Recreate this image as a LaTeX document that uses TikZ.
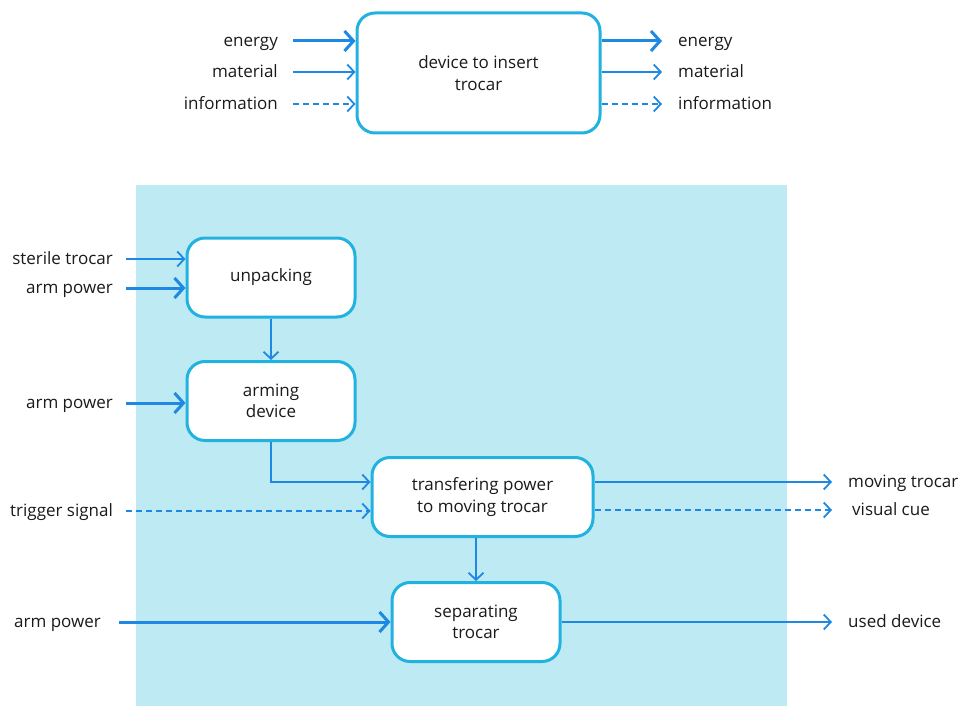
\documentclass[tikz,border=0pt]{standalone}
\usepackage{fontspec}
\setmainfont{Open Sans}
\usetikzlibrary{arrows.meta,positioning}

\definecolor{boxline}{HTML}{22B2E0}
\definecolor{flow}{HTML}{1E88E5}
\definecolor{area}{HTML}{BDEAF3}
\definecolor{ink}{HTML}{1A1A1A}

\tikzset{
  fn/.style={draw=boxline, line width=3pt, fill=white, rounded corners=18pt,
    align=center, text=ink, minimum width=168pt, minimum height=79pt},
  lbl/.style={inner sep=0pt, text=ink, text height=14pt, text depth=3pt},
  flw/.style={flow, line width=1.8pt, -{Straight Barb[length=7pt,width=15pt]}},
  heavy/.style={flow, line width=3pt, -{Straight Barb[length=9pt,width=20pt]}},
  info/.style={flw, dash pattern=on 6pt off 4pt},
}

\begin{document}
\begin{tikzpicture}[x=1pt, y=-1pt, font=\fontsize{17}{21.5}\selectfont]
  \useasboundingbox (0,0) rectangle (959,706);

  % top: the device as one block
  \node[fn, minimum width=243pt, minimum height=120pt] (dev) at (478.5,73) {device to insert\\trocar};

  \node[lbl, anchor=east] (inE) at (278,41) {energy};
  \node[lbl, anchor=east] (inM) at (278,72) {material};
  \node[lbl, anchor=east] (inI) at (278,104) {information};
  \node[lbl, anchor=west] (outE) at (678,41) {energy};
  \node[lbl, anchor=west] (outM) at (678,72) {material};
  \node[lbl, anchor=west] (outI) at (678,104) {information};

  \draw[heavy] ([xshift=15pt]inE.east) -- (inE -| dev.west);
  \draw[flw] ([xshift=15pt]inM.east) -- (inM -| dev.west);
  \draw[info] ([xshift=15pt]inI.east) -- (inI -| dev.west);
  \draw[heavy] (outE -| dev.east) -- ([xshift=-16pt]outE.west);
  \draw[flw] (outM -| dev.east) -- ([xshift=-16pt]outM.west);
  \draw[info] (outI -| dev.east) -- ([xshift=-16pt]outI.west);

  % bottom: the functions inside
  \fill[area] (136,185) rectangle (787,706);

  \node[fn] (unp) at (271,277.5) {unpacking};
  \node[fn] (arm) at (271,401) {arming\\device};
  \node[fn, minimum width=221pt] (trans) at (482.5,497) {transfering power\\to moving trocar};
  \node[fn] (sep) at (476,622) {separating\\trocar};

  \node[lbl, anchor=east] (steril) at (113,259) {sterile trocar};
  \node[lbl, anchor=east] (pw1) at (113,288) {arm power};
  \node[lbl, anchor=east] (pw2) at (113,403) {arm power};
  \node[lbl, anchor=west] (trig) at (10,511) {trigger signal};
  \node[lbl, anchor=west] (pw3) at (14,622) {arm power};
  \node[lbl, anchor=west] (mov) at (848,482) {moving trocar};
  \node[lbl, anchor=west] (cue) at (852,510) {visual cue};
  \node[lbl, anchor=west] (used) at (848,622) {used device};

  \draw[flw] ([xshift=13pt]steril.east) -- (steril -| unp.west);
  \draw[heavy] ([xshift=13pt]pw1.east) -- (pw1 -| unp.west);
  \draw[heavy] ([xshift=13pt]pw2.east) -- (pw2 -| arm.west);
  \draw[info] (trig -| 126,0) -- (trig -| trans.west);
  \draw[heavy] (pw3 -| 119,0) -- (pw3 -| sep.west);

  \draw[flw] (unp) -- (arm);
  \draw[flw] (arm.south) |- ([yshift=15pt]trans.west);
  \draw[flw] (trans.south -| sep.north) -- (sep.north);

  \draw[flw] (mov -| trans.east) -- ([xshift=-16pt]mov.west);
  \draw[info] (cue -| trans.east) -- ([xshift=-20pt]cue.west);
  \draw[flw] (used -| sep.east) -- ([xshift=-16pt]used.west);
\end{tikzpicture}
\end{document}
